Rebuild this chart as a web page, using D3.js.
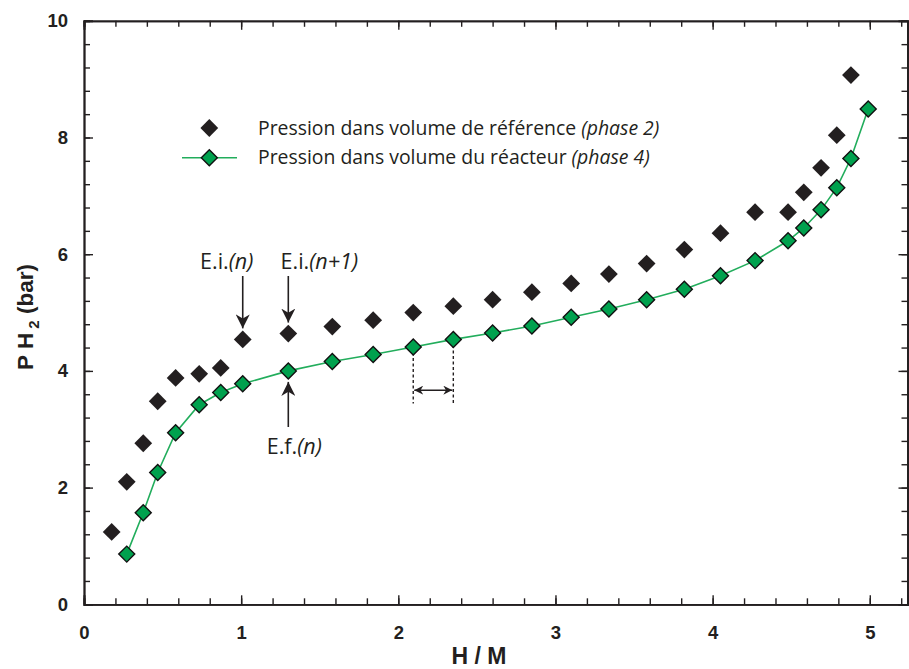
<!DOCTYPE html>
<html><head><meta charset="utf-8">
<script src="https://cdn.jsdelivr.net/npm/d3@7"></script>
<style>
body{margin:0;background:#fff;}
svg{display:block;}
</style></head>
<body>
<svg id="chart" width="909" height="669"></svg>
<script>
// ---- data ----
const refH = [0.176,0.272,0.377,0.469,0.583,0.733,0.870,1.01,1.30,1.58,1.84,2.095,2.35,2.60,2.85,3.10,3.34,3.58,3.82,4.05,4.27,4.48,4.58,4.69,4.79,4.88];
const refP = [1.24,2.10,2.76,3.48,3.88,3.95,4.05,4.54,4.64,4.76,4.87,5.00,5.11,5.22,5.35,5.50,5.66,5.84,6.08,6.36,6.72,6.72,7.06,7.48,8.04,9.07];
const reacH = [0.272,0.377,0.469,0.583,0.733,0.870,1.01,1.30,1.58,1.84,2.095,2.35,2.60,2.85,3.10,3.34,3.58,3.82,4.05,4.27,4.48,4.58,4.69,4.79,4.88,4.99];
const reacP = [0.86,1.57,2.26,2.94,3.42,3.63,3.78,4.00,4.16,4.28,4.41,4.54,4.65,4.77,4.92,5.06,5.22,5.40,5.63,5.89,6.23,6.45,6.76,7.14,7.64,8.49];
const xMajorTicks = [0,1,2,3,4,5];
const yMajorTicks = [0,2,4,6,8,10];
const legendLabels = ["Pression dans volume de référence", "Pression dans volume du réacteur"];
const legendItal = ["(phase 2)", "(phase 4)"];

const ink = "#231f20";
const green = "#00a14e";
const lineGreen = "#22ad5c";

const svg = d3.select("#chart");
const x = d3.scaleLinear().domain([0,5.24]).range([84,907.5]);
const y = d3.scaleLinear().domain([0,10]).range([604.3,20.8]);

const xMinor = d3.range(0,5.241,0.2).map(v=>+v.toFixed(2));
const yMinor = d3.range(0,10.01,0.4).map(v=>+v.toFixed(2));

function styleAxis(g){
  g.select(".domain").attr("stroke",ink).attr("stroke-width",1.8);
  g.selectAll(".tick line").attr("stroke",ink).attr("stroke-width",1.4);
  g.selectAll(".tick text").attr("fill",ink)
   .style("font-family","'Liberation Sans', Arial, sans-serif")
   .style("font-weight","bold").style("font-size","18.5px");
}
const X0 = x.range()[0], X1 = x.range()[1], Y0 = y.range()[0], Y1 = y.range()[1];

// bottom
svg.append("g").attr("transform",`translate(0,${Y0})`)
  .call(d3.axisBottom(x).tickValues(xMinor).tickSize(-6).tickFormat("")).call(styleAxis);
svg.append("g").attr("transform",`translate(0,${Y0})`)
  .call(d3.axisBottom(x).tickValues(xMajorTicks).tickSize(-9).tickPadding(22).tickFormat(d3.format("d"))).call(styleAxis);
// top
svg.append("g").attr("transform",`translate(0,${Y1})`)
  .call(d3.axisTop(x).tickValues(xMinor).tickSize(-6).tickFormat("")).call(styleAxis);
svg.append("g").attr("transform",`translate(0,${Y1})`)
  .call(d3.axisTop(x).tickValues(xMajorTicks).tickSize(-9).tickFormat("")).call(styleAxis);
// left
svg.append("g").attr("transform",`translate(${X0},0)`)
  .call(d3.axisLeft(y).tickValues(yMinor).tickSize(-6).tickFormat("")).call(styleAxis);
svg.append("g").attr("transform",`translate(${X0},0)`)
  .call(d3.axisLeft(y).tickValues(yMajorTicks).tickSize(-9).tickPadding(16).tickFormat(d3.format("d"))).call(styleAxis);
// right
svg.append("g").attr("transform",`translate(${X1},0)`)
  .call(d3.axisRight(y).tickValues(yMinor).tickSize(-6).tickFormat("")).call(styleAxis);
svg.append("g").attr("transform",`translate(${X1},0)`)
  .call(d3.axisRight(y).tickValues(yMajorTicks).tickSize(-9).tickFormat("")).call(styleAxis);

// axis titles
svg.append("text").attr("x",479).attr("y",664).attr("text-anchor","middle")
  .attr("fill",ink).style("font-family","'Liberation Sans', Arial, sans-serif")
  .style("font-weight","bold").style("font-size","23px").text("H / M");
const yt = svg.append("text").attr("transform","translate(33,317) rotate(-90)").attr("text-anchor","middle")
  .attr("fill",ink).style("font-family","'Liberation Sans', Arial, sans-serif")
  .style("font-weight","bold").style("font-size","22.5px");
yt.append("tspan").text("P H");
yt.append("tspan").attr("dy",6).style("font-size","15px").text(" 2");
yt.append("tspan").attr("dy",-6).text(" (bar)");

// diamond symbol
const diamond = (s)=> d3.symbol().type(d3.symbolSquare).size(s)();

// reactor line
const line = d3.line().x((d,i)=>x(reacH[i])).y((d,i)=>y(reacP[i]));
svg.append("path").datum(reacP).attr("d",line).attr("fill","none")
  .attr("stroke",lineGreen).attr("stroke-width",1.6);

// arrow markers
const defs = svg.append("defs");
defs.append("marker").attr("id","ah").attr("viewBox","0 0 10 10").attr("refX",10).attr("refY",5)
  .attr("markerWidth",9).attr("markerHeight",9).attr("markerUnits","userSpaceOnUse").attr("orient","auto-start-reverse")
  .append("path").attr("d","M0,0 L10,5 L0,10 L3,5 Z").attr("fill",ink);
defs.append("marker").attr("id","ahBig").attr("viewBox","0 0 10 10").attr("refX",10).attr("refY",5)
  .attr("markerWidth",14).attr("markerHeight",14).attr("markerUnits","userSpaceOnUse").attr("orient","auto-start-reverse")
  .append("path").attr("d","M0,0 L10,5 L0,10 L3,5 Z").attr("fill",ink);

// dashed lines & double arrow (between reactor points 10 and 11)
[10,11].forEach(i=>{
  svg.append("line").attr("x1",x(reacH[i])).attr("x2",x(reacH[i]))
    .attr("y1",y(reacP[i])).attr("y2",y(3.44))
    .attr("stroke",ink).attr("stroke-width",1.4).attr("stroke-dasharray","3,2.5");
});
svg.append("line").attr("x1",x(reacH[10])+1).attr("x2",x(reacH[11])-1)
  .attr("y1",y(3.67)).attr("y2",y(3.67)).attr("stroke",ink).attr("stroke-width",1.5)
  .attr("marker-start","url(#ah)").attr("marker-end","url(#ah)");

// reference points
svg.append("g").selectAll("path").data(refP).join("path")
  .attr("d",diamond(158))
  .attr("transform",(d,i)=>`translate(${x(refH[i])},${y(d)}) rotate(45)`)
  .attr("fill",ink);
// reactor points
svg.append("g").selectAll("path").data(reacP).join("path")
  .attr("d",diamond(128))
  .attr("transform",(d,i)=>`translate(${x(reacH[i])},${y(d)}) rotate(45)`)
  .attr("fill",green).attr("stroke","#111").attr("stroke-width",1.4);

// annotations
const annFont = "'Open Sans', 'Noto Sans', sans-serif";
function ann(xc, yb, upright, ital){
  const t = svg.append("text").attr("x",xc).attr("y",yb).attr("text-anchor","middle")
    .attr("fill",ink).style("font-family",annFont).style("font-size","21.5px");
  t.append("tspan").text(upright);
  t.append("tspan").style("font-style","italic").text(ital);
}
const xa = x(refH[7]), xb = x(refH[8]);
ann(xa-16, 269, "E.i.", "(n)");
ann(xb+31, 269, "E.i.", "(n+1)");
ann(xb+6, 454, "E.f.", "(n)");
svg.append("line").attr("x1",xa).attr("x2",xa).attr("y1",276).attr("y2",y(refP[7])-11)
  .attr("stroke",ink).attr("stroke-width",1.6).attr("marker-end","url(#ahBig)");
svg.append("line").attr("x1",xb).attr("x2",xb).attr("y1",276).attr("y2",y(refP[8])-11)
  .attr("stroke",ink).attr("stroke-width",1.6).attr("marker-end","url(#ahBig)");
svg.append("line").attr("x1",xb).attr("x2",xb).attr("y1",427).attr("y2",y(reacP[7])+11)
  .attr("stroke",ink).attr("stroke-width",1.6).attr("marker-end","url(#ahBig)");

// legend
const lg = svg.append("g");
lg.append("path").attr("d",diamond(158)).attr("transform","translate(209.3,128) rotate(45)").attr("fill",ink);
lg.append("line").attr("x1",182).attr("x2",237).attr("y1",157.7).attr("y2",157.7).attr("stroke",lineGreen).attr("stroke-width",1.6);
lg.append("path").attr("d",diamond(128)).attr("transform","translate(209.3,157.7) rotate(45)")
  .attr("fill",green).attr("stroke","#111").attr("stroke-width",1.4);
legendLabels.forEach((lab,i)=>{
  const t = lg.append("text").attr("x",258).attr("y",134.5+i*29.7).attr("fill",ink)
    .style("font-family",annFont).style("font-size","19.4px");
  t.append("tspan").text(lab+" ");
  t.append("tspan").style("font-style","italic").text(legendItal[i]);
});
</script>
</body></html>
